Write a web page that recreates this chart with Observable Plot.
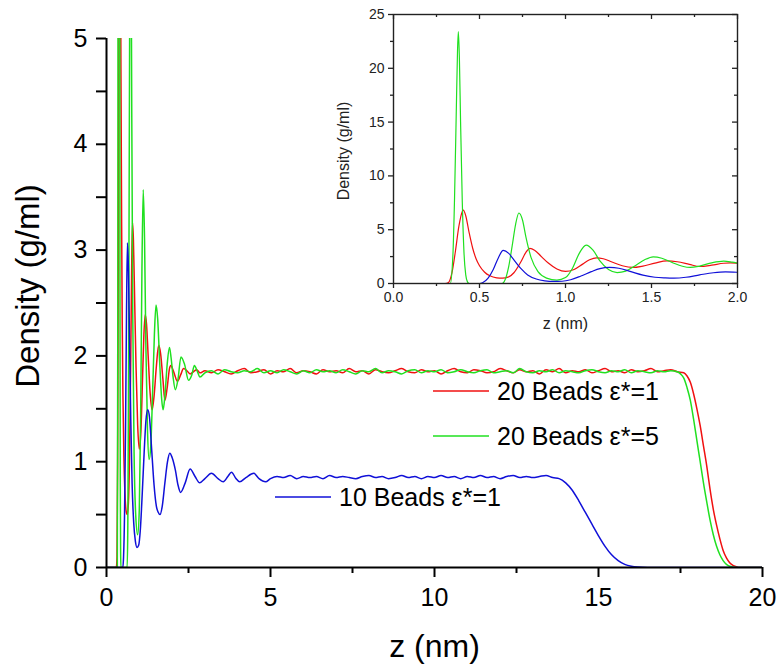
<!DOCTYPE html>
<html><head><meta charset="utf-8">
<script src="https://cdn.jsdelivr.net/npm/d3@7"></script>
<script src="https://cdn.jsdelivr.net/npm/@observablehq/plot@0.6"></script>
<style>
body{margin:0;background:#fff;}
#wrap{position:relative;width:780px;height:665px;overflow:hidden;}
#wrap svg{display:block;}
#insetBox{position:absolute;left:330px;top:0;}
</style></head><body><div id="wrap"><div id="mainBox"></div><div id="insetBox"></div></div>
<script>
// ---------------- data ----------------
const seriesNames = ["20 Beads \u03B5*=1", "20 Beads \u03B5*=5", "10 Beads \u03B5*=1"];
const seriesColors = ["#f01010", "#20e020", "#1010d8"];

const xTicksMain = [0, 5, 10, 15, 20];
const xMinorMain = [2.5, 7.5, 12.5, 17.5];
const yTicksMain = [0, 1, 2, 3, 4, 5];
const yMinorMain = [0.5, 1.5, 2.5, 3.5, 4.5];
const xTicksInset = [0, 0.5, 1.0, 1.5, 2.0];
const xMinorInset = [0.25, 0.75, 1.25, 1.75];
const yTicksInset = [0, 5, 10, 15, 20, 25];
const yMinorInset = [2.5, 7.5, 12.5, 17.5, 22.5];

// 20 Beads e*=1 (red)
const redWallZ = [0,0.30,0.32,0.34,0.36,0.38,0.40,0.406,0.42,0.44,0.46,0.48,0.50,0.53,0.56,0.60,0.633,0.67,0.70,0.74,0.77,0.793,0.82,0.86,0.90,0.95,1.0,1.05,1.10,1.14,1.18,1.22,1.27,1.33,1.39,1.45,1.52,1.59,1.65,1.72,1.78,1.85,1.92,1.96,2.0,2.08,2.16,2.26,2.35,2.45,2.55,2.65,2.75,2.85];
const redWallD = [0,0,0.1,1.0,3.0,5.3,6.7,6.82,6.3,4.7,3.3,2.3,1.65,1.05,0.72,0.53,0.50,0.62,1.0,2.0,2.9,3.26,3.1,2.5,1.9,1.35,1.12,1.3,1.8,2.2,2.39,2.3,2.0,1.65,1.49,1.62,1.9,2.1,2.02,1.78,1.58,1.7,1.88,1.91,1.89,1.82,1.76,1.82,1.88,1.86,1.83,1.85,1.87,1.84];
const redTailZ = [17.6,17.7,17.8,17.9,18.0,18.1,18.2,18.3,18.4,18.5,18.6,18.7,18.8,18.9,19.0,19.1,19.2,19.3,20];
const redTailD = [1.84,1.81,1.75,1.64,1.50,1.34,1.15,0.96,0.74,0.55,0.40,0.27,0.16,0.09,0.045,0.02,0.008,0,0];

// 20 Beads e*=5 (green)
const greenWallZ = [0,0.33,0.345,0.355,0.365,0.372,0.377,0.383,0.39,0.40,0.41,0.42,0.43,0.44,0.63,0.65,0.67,0.69,0.71,0.729,0.75,0.77,0.80,0.84,0.89,0.95,1.0,1.04,1.08,1.12,1.16,1.20,1.25,1.30,1.35,1.41,1.46,1.51,1.56,1.62,1.68,1.725,1.78,1.85,1.92,1.97,2.03,2.10,2.18,2.27,2.38,2.50,2.60,2.68,2.76,2.85];
const greenWallD = [0,0,2.5,8,16,21.5,23.4,21,15,7.5,2.8,0.8,0.15,0,0,0.4,1.6,3.5,5.5,6.55,5.9,4.3,2.4,1.1,0.5,0.31,0.55,1.4,2.8,3.57,3.1,2.1,1.3,1.02,1.15,1.7,2.2,2.48,2.35,1.95,1.6,1.49,1.62,1.92,2.08,1.98,1.80,1.68,1.78,1.99,1.92,1.77,1.82,1.91,1.86,1.80];
const greenTailZ = [17.5,17.6,17.7,17.8,17.9,18.0,18.1,18.2,18.3,18.4,18.5,18.6,18.7,18.8,18.9,19.0,19.1,19.2,20];
const greenTailD = [1.83,1.79,1.70,1.58,1.40,1.20,1.00,0.80,0.62,0.45,0.31,0.20,0.12,0.065,0.03,0.012,0.004,0,0];

// plateau for the 20-bead films
const plateauZ = [3.0,3.2,3.4,3.6,3.8,4.0,4.2,4.4,4.6,4.8,5.0,5.2,5.4,5.6,5.8,6.0,6.2,6.4,6.6,6.8,7.0,7.2,7.4,7.6,7.8,8.0,8.2,8.4,8.6,8.8,9.0,9.2,9.4,9.6,9.8,10.0,10.2,10.4,10.6,10.8,11.0,11.2,11.4,11.6,11.8,12.0,12.2,12.4,12.6,12.8,13.0,13.2,13.4,13.6,13.8,14.0,14.2,14.4,14.6,14.8,15.0,15.2,15.4,15.6,15.8,16.0,16.2,16.4,16.6,16.8,17.0,17.2,17.4];
const redPlateau = [1.86,1.84,1.87,1.85,1.83,1.86,1.88,1.84,1.85,1.87,1.83,1.86,1.85,1.88,1.84,1.86,1.85,1.83,1.87,1.85,1.86,1.84,1.88,1.85,1.86,1.83,1.87,1.85,1.84,1.86,1.88,1.85,1.84,1.87,1.85,1.86,1.83,1.86,1.88,1.85,1.84,1.87,1.86,1.84,1.85,1.88,1.86,1.84,1.87,1.85,1.86,1.83,1.87,1.85,1.88,1.84,1.86,1.85,1.87,1.84,1.86,1.88,1.85,1.86,1.84,1.87,1.85,1.86,1.88,1.85,1.86,1.87,1.85];
const greenPlateau = [1.84,1.86,1.83,1.87,1.85,1.84,1.86,1.85,1.88,1.84,1.86,1.84,1.87,1.85,1.83,1.86,1.84,1.87,1.85,1.86,1.84,1.87,1.85,1.83,1.86,1.85,1.88,1.84,1.86,1.85,1.83,1.86,1.87,1.84,1.86,1.85,1.87,1.84,1.85,1.87,1.85,1.84,1.86,1.87,1.84,1.85,1.86,1.84,1.88,1.85,1.84,1.86,1.85,1.87,1.84,1.86,1.85,1.84,1.86,1.87,1.85,1.84,1.86,1.85,1.87,1.84,1.86,1.85,1.84,1.86,1.85,1.86,1.85];

// 10 Beads e*=1 (blue)
const blueWallZ = [0,0.50,0.52,0.55,0.58,0.61,0.638,0.67,0.70,0.74,0.78,0.83,0.88,0.93,0.98,1.03,1.09,1.15,1.20,1.257,1.31,1.38,1.45,1.52,1.58,1.63,1.70,1.78,1.86,1.93,2.0,2.1,2.18,2.26,2.4,2.55,2.7,2.84,3.0,3.2,3.4,3.56,3.7,3.81,3.95,4.06,4.25,4.49,4.65,4.85,5.0];
const blueWallD = [0,0,0.1,0.5,1.3,2.4,3.07,2.8,2.2,1.4,0.8,0.42,0.25,0.19,0.21,0.35,0.7,1.1,1.38,1.49,1.42,1.1,0.78,0.58,0.52,0.50,0.58,0.8,1.0,1.08,1.04,0.92,0.78,0.71,0.80,0.93,0.86,0.80,0.84,0.89,0.84,0.81,0.86,0.90,0.84,0.81,0.85,0.89,0.84,0.81,0.84];
const bluePlateauZ = [5.2,5.4,5.6,5.8,6.0,6.2,6.4,6.6,6.8,7.0,7.2,7.4,7.6,7.8,8.0,8.2,8.4,8.6,8.8,9.0,9.2,9.4,9.6,9.8,10.0,10.2,10.4,10.6,10.8,11.0,11.2,11.4,11.6,11.8,12.0,12.2,12.4,12.6,12.8,13.0,13.2,13.4,13.6];
const bluePlateau = [0.86,0.85,0.87,0.84,0.86,0.85,0.86,0.84,0.87,0.85,0.86,0.85,0.84,0.86,0.87,0.85,0.86,0.84,0.85,0.87,0.85,0.86,0.84,0.86,0.85,0.87,0.85,0.86,0.84,0.86,0.85,0.87,0.85,0.86,0.84,0.86,0.87,0.85,0.86,0.85,0.86,0.87,0.85];
const blueTailZ = [13.8,14.0,14.2,14.4,14.6,14.8,15.0,15.2,15.4,15.6,15.8,16.0,16.2,16.5,20];
const blueTailD = [0.84,0.80,0.73,0.63,0.52,0.41,0.30,0.20,0.12,0.065,0.03,0.012,0.004,0,0];

// ---------------- build tables ----------------
function rows(name, zs, ds) { return zs.map((z, i) => ({series: name, z, d: ds[i]})); }
const redRows = [...rows(seriesNames[0], redWallZ, redWallD), ...rows(seriesNames[0], plateauZ, redPlateau), ...rows(seriesNames[0], redTailZ, redTailD)];
const greenRows = [...rows(seriesNames[1], greenWallZ, greenWallD), ...rows(seriesNames[1], plateauZ, greenPlateau), ...rows(seriesNames[1], greenTailZ, greenTailD)];
const blueRows = [...rows(seriesNames[2], blueWallZ, blueWallD), ...rows(seriesNames[2], bluePlateauZ, bluePlateau), ...rows(seriesNames[2], blueTailZ, blueTailD)];
const allRows = [redRows, greenRows, blueRows];

const FONT = "'Liberation Sans', Arial, Helvetica, sans-serif";

// ---------------- main chart ----------------
const main = Plot.plot({
  width: 780, height: 665,
  marginLeft: 106, marginRight: 18, marginTop: 38, marginBottom: 98,
  style: {fontFamily: FONT, background: "white", color: "black", overflow: "visible"},
  x: {domain: [0, 20]},
  y: {domain: [0, 5]},
  marks: [
    ...allRows.map((r, i) => Plot.line(r, {x: "z", y: "d", stroke: seriesColors[i], strokeWidth: 1.5, curve: "monotone-x", clip: true})),
    Plot.axisX(xTicksMain, {tickSize: 10, tickPadding: 11, fontSize: 25, strokeWidth: 2, label: null, tickFormat: d => String(d)}),
    Plot.axisX(xMinorMain, {tickSize: 6, strokeWidth: 2, label: null, tickFormat: () => ""}),
    Plot.axisY(yTicksMain, {tickSize: 10, tickPadding: 9, fontSize: 25, strokeWidth: 2, label: null, tickFormat: d => String(d)}),
    Plot.axisY(yMinorMain, {tickSize: 10, strokeWidth: 2, label: null, tickFormat: () => ""}),
    Plot.ruleX([0], {stroke: "black", strokeWidth: 2}),
    Plot.ruleY([0], {stroke: "black", strokeWidth: 2}),
    Plot.text(["Density (g/ml)"], {frameAnchor: "left", textAnchor: "middle", lineAnchor: "middle", rotate: -90, dx: -78, dy: -17, fontSize: 33, fill: "black"}),
    Plot.text(["z (nm)"], {frameAnchor: "bottom", textAnchor: "middle", lineAnchor: "middle", dy: 79, fontSize: 32, fill: "black"})
  ]
});
document.getElementById("mainBox").appendChild(main);

// legend (pixel layout)
const legendLayout = [
  {x1: 433, x2: 489, y: 391, tx: 497},
  {x1: 433, x2: 489, y: 436, tx: 497},
  {x1: 275, x2: 331, y: 497, tx: 339}
];
const lg = d3.select(main).append("g").attr("font-family", FONT).attr("font-size", 25).attr("text-anchor", "start");
legendLayout.forEach((p, i) => {
  lg.append("line").attr("x1", p.x1).attr("x2", p.x2).attr("y1", p.y).attr("y2", p.y)
    .attr("stroke", seriesColors[i]).attr("stroke-width", 1.5);
  lg.append("text").attr("x", p.tx).attr("y", p.y).attr("dy", "0.35em").attr("text-anchor", "start").attr("fill", "black").text(seriesNames[i]);
});

// ---------------- inset ----------------
const IW = 420, IH = 335, IML = 63, IMR = 13, IMT = 14, IMB = 52;
const frameW = IW - IML - IMR, frameH = IH - IMT - IMB;
const inset = Plot.plot({
  width: IW, height: IH,
  marginLeft: IML, marginRight: IMR, marginTop: IMT, marginBottom: IMB,
  style: {fontFamily: FONT, background: "transparent", color: "#222", overflow: "visible"},
  x: {domain: [0, 2]},
  y: {domain: [0, 25]},
  marks: [
    ...allRows.map((r, i) => Plot.line(r, {x: "z", y: "d", stroke: seriesColors[i], strokeWidth: 1.2, curve: "monotone-x", clip: true})),
    Plot.frame({stroke: "#222", strokeWidth: 1.4}),
    Plot.axisX(xTicksInset, {tickSize: 5, tickPadding: 4, fontSize: 14, strokeWidth: 1.3, label: null, tickFormat: d3.format(".1f")}),
    Plot.axisX(xMinorInset, {tickSize: 3, strokeWidth: 1.3, label: null, tickFormat: () => ""}),
    Plot.axisY(yTicksInset, {tickSize: 5, tickPadding: 4, fontSize: 14, strokeWidth: 1.3, label: null, tickFormat: d => String(d)}),
    Plot.axisY(yMinorInset, {tickSize: 3, strokeWidth: 1.3, label: null, tickFormat: () => ""}),
    // mirrored inward ticks on top and right
    Plot.ruleX(xTicksInset, {stroke: "#222", strokeWidth: 1.3, insetBottom: frameH - 5}),
    Plot.ruleX(xMinorInset, {stroke: "#222", strokeWidth: 1.3, insetBottom: frameH - 3}),
    Plot.ruleY(yTicksInset, {stroke: "#222", strokeWidth: 1.3, insetLeft: frameW - 5}),
    Plot.ruleY(yMinorInset, {stroke: "#222", strokeWidth: 1.3, insetLeft: frameW - 3}),
    Plot.text(["Density (g/ml)"], {frameAnchor: "left", textAnchor: "middle", lineAnchor: "middle", rotate: -90, dx: -50, dy: 2, fontSize: 16, fill: "#222"}),
    Plot.text(["z (nm)"], {frameAnchor: "bottom", textAnchor: "middle", lineAnchor: "middle", dy: 40, fontSize: 16, fill: "#222"})
  ]
});
document.getElementById("insetBox").appendChild(inset);
</script>
</body></html>
